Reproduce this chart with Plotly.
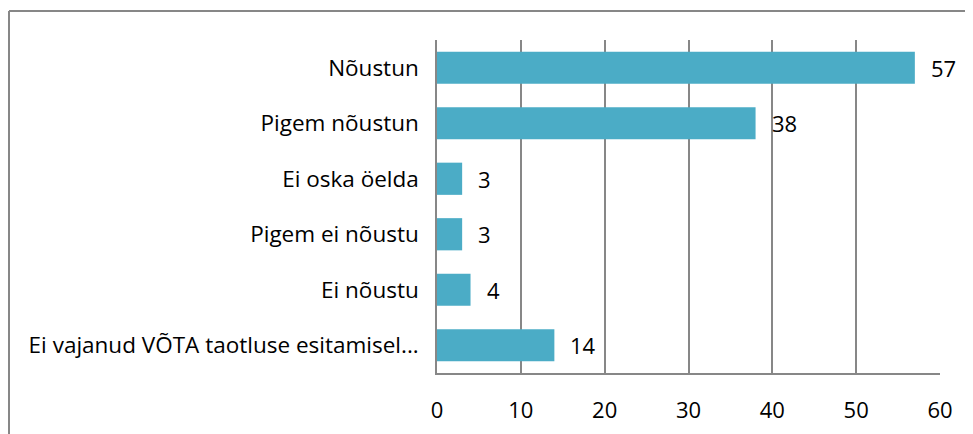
import plotly.graph_objects as go

categories = ["Nõustun", "Pigem nõustun", "Ei oska öelda", "Pigem ei nõustu", "Ei nõustu",
              "Ei vajanud VÕTA taotluse esitamisel..."]
values = [57, 38, 3, 3, 4, 14]
x_ticks = [0, 10, 20, 30, 40, 50, 60]

FONT = "Open Sans"
FS = 22
GRAY = "#878787"

# The page body adds an 8px offset; figure pixel p lands at page p + 8.
OFF = 8
W, H = 973 - OFF, 434 - OFF
L = 437 - OFF
T = 40 - OFF
R = W - (940 - OFF)
B = H - (373 - OFF)
pw, ph = W - L - R, H - T - B

fig = go.Figure()
fig.add_trace(go.Bar(
    x=values, y=categories, orientation="h",
    marker=dict(color="#4BACC6", line=dict(width=0)),
    hoverinfo="skip",
))

for c, v in zip(categories, values):
    fig.add_annotation(x=v, y=c, text=str(v), showarrow=False, xanchor="left",
                       xshift=14, font=dict(family=FONT, size=FS, color="#000"))


def px_x(p):
    return (p - L) / pw


def px_y(p):
    return (H - B - p) / ph


# outer chart border (left and top edges visible)
fig.add_shape(type="line", xref="paper", yref="paper",
              x0=px_x(1), x1=px_x(W + 5), y0=px_y(3), y1=px_y(3),
              line=dict(color=GRAY, width=2))
fig.add_shape(type="line", xref="paper", yref="paper",
              x0=px_x(1), x1=px_x(1), y0=px_y(3), y1=px_y(H + 5),
              line=dict(color=GRAY, width=2))

fig.update_layout(
    width=W, height=H,
    margin=dict(l=L, r=R, t=T, b=B, autoexpand=False),
    paper_bgcolor="white", plot_bgcolor="white",
    bargap=0.42,
    showlegend=False,
    font=dict(family=FONT, size=FS, color="#000"),
    xaxis=dict(range=[0, 60], tickvals=x_ticks, showgrid=True, gridcolor=GRAY, gridwidth=1.5,
               zeroline=False, showline=True, linecolor=GRAY, linewidth=1.5,
               ticks="", ticklabelstandoff=17, mirror=False,
               tickfont=dict(family=FONT, size=FS, color="#000")),
    yaxis=dict(autorange="reversed", showgrid=False, showline=True, linecolor=GRAY,
               linewidth=1.5, ticks="", ticklabelstandoff=12,
               tickfont=dict(family=FONT, size=22.5, color="#000")),
)

fig.write_html("out.html")
